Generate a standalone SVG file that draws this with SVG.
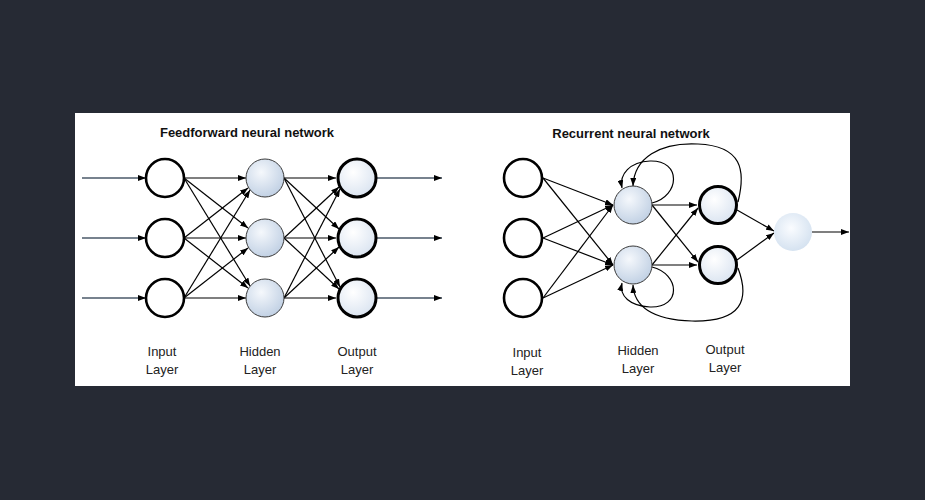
<svg xmlns="http://www.w3.org/2000/svg" width="925" height="500" viewBox="0 0 925 500">
<style>
.ln{stroke:#000;stroke-width:1.2;fill:none;marker-end:url(#ah)}
.io{stroke:#4a5868;stroke-width:1.4;fill:none;marker-end:url(#ah)}
.inp{fill:#fff;stroke:#000;stroke-width:2.6}
.hid{fill:url(#gh);stroke:#3a3a3a;stroke-width:1}
.out{fill:url(#go);stroke:#000;stroke-width:3}
.fin{fill:url(#gf);stroke:none}
.title{font-family:"Liberation Sans",Arial,sans-serif;font-weight:bold;font-size:13px;fill:#111;text-anchor:middle}
.lbl{font-family:"Liberation Sans",Arial,sans-serif;font-size:13px;fill:#222;text-anchor:middle}
</style>
<defs>
<marker id="ah" viewBox="0 0 8 6" refX="8" refY="3" markerWidth="8" markerHeight="6" markerUnits="userSpaceOnUse" orient="auto"><path d="M0,0 L8,3 L0,6 z" fill="#000"/></marker>
<radialGradient id="gh" cx="40%" cy="35%" r="70%"><stop offset="0" stop-color="#f5f8fc"/><stop offset="1" stop-color="#bfcfe3"/></radialGradient>
<radialGradient id="go" cx="40%" cy="35%" r="70%"><stop offset="0" stop-color="#ffffff"/><stop offset="1" stop-color="#d9e3f0"/></radialGradient>
<radialGradient id="gf" cx="45%" cy="40%" r="65%"><stop offset="0" stop-color="#fafcff"/><stop offset="1" stop-color="#d2e0ef"/></radialGradient>
</defs>
<rect x="0" y="0" width="925" height="500" fill="#262a34"/>
<rect x="75" y="113" width="775" height="273" fill="#fff"/>

<g id="connectors">
<path class="io" d="M82,178 L146,178"/>
<path class="io" d="M82,238 L146,238"/>
<path class="io" d="M82,298 L146,298"/>
<path class="io" d="M377,178 L442,178"/>
<path class="io" d="M377,238 L442,238"/>
<path class="io" d="M377,298 L442,298"/>
<path class="ln" d="M184,178 L246,178"/>
<path class="ln" d="M184,238 L248,188"/>
<path class="ln" d="M184,298 L250,190"/>
<path class="ln" d="M184,178 L248,228"/>
<path class="ln" d="M184,238 L246,238"/>
<path class="ln" d="M184,298 L248,248"/>
<path class="ln" d="M184,178 L250,286"/>
<path class="ln" d="M184,238 L248,288"/>
<path class="ln" d="M184,298 L246,298"/>
<path class="ln" d="M284,178 L336,178"/>
<path class="ln" d="M284,238 L339,187"/>
<path class="ln" d="M284,298 L340,189"/>
<path class="ln" d="M284,178 L339,229"/>
<path class="ln" d="M284,238 L336,238"/>
<path class="ln" d="M284,298 L339,247"/>
<path class="ln" d="M284,178 L340,287"/>
<path class="ln" d="M284,238 L339,289"/>
<path class="ln" d="M284,298 L336,298"/>

<path class="ln" d="M543,178 L613,205"/>
<path class="ln" d="M543,238 L613,205"/>
<path class="ln" d="M543,298 L613,205"/>
<path class="ln" d="M543,178 L613,265"/>
<path class="ln" d="M543,238 L613,265"/>
<path class="ln" d="M543,298 L613,265"/>
<path class="ln" d="M652,205 L697,205"/>
<path class="ln" d="M652,205 L698,262"/>
<path class="ln" d="M652,265 L698,208"/>
<path class="ln" d="M652,265 L697,265"/>
<path class="ln" d="M737,210 L774,231"/>
<path class="ln" d="M737,260 L774,233"/>
<path class="ln" d="M812,232 L849,232"/>
<path class="ln" d="M652,203 C680,196 682,160 650,161 C630,162 619,174 622,188"/>
<path class="ln" d="M738,202 C746,170 742,146 698,144 C660,142 634,158 633,186"/>
<path class="ln" d="M652,267 C680,274 682,308 650,307 C630,306 619,296 622,283"/>
<path class="ln" d="M738,268 C750,300 742,322 692,321 C652,320 634,306 633,285"/>
</g>

<g id="ff-in-1"><circle class="inp" cx="165" cy="178" r="19"/></g>
<g id="ff-in-2"><circle class="inp" cx="165" cy="238" r="19"/></g>
<g id="ff-in-3"><circle class="inp" cx="165" cy="298" r="19"/></g>
<g id="ff-hid-1"><circle class="hid" cx="265" cy="178" r="19"/></g>
<g id="ff-hid-2"><circle class="hid" cx="265" cy="238" r="19"/></g>
<g id="ff-hid-3"><circle class="hid" cx="265" cy="298" r="19"/></g>
<g id="ff-out-1"><circle class="out" cx="357" cy="178" r="19"/></g>
<g id="ff-out-2"><circle class="out" cx="357" cy="238" r="19"/></g>
<g id="ff-out-3"><circle class="out" cx="357" cy="298" r="19"/></g>

<g id="rnn-in-1"><circle class="inp" cx="523" cy="178" r="19"/></g>
<g id="rnn-in-2"><circle class="inp" cx="523" cy="238" r="19"/></g>
<g id="rnn-in-3"><circle class="inp" cx="523" cy="298" r="19"/></g>
<g id="rnn-hid-1"><circle class="hid" cx="633" cy="205" r="19"/></g>
<g id="rnn-hid-2"><circle class="hid" cx="633" cy="265" r="19"/></g>
<g id="rnn-out-1"><circle class="out" cx="718" cy="205" r="18.5"/></g>
<g id="rnn-out-2"><circle class="out" cx="718" cy="265" r="18.5"/></g>
<g id="rnn-final"><circle class="fin" cx="793" cy="232" r="19"/></g>

<g id="labels">
<text class="title" x="247" y="137">Feedforward neural network</text>
<text class="title" x="631" y="138">Recurrent neural network</text>
<text class="lbl" x="162" y="356">Input</text>
<text class="lbl" x="162" y="374">Layer</text>
<text class="lbl" x="260" y="356">Hidden</text>
<text class="lbl" x="260" y="374">Layer</text>
<text class="lbl" x="357" y="356">Output</text>
<text class="lbl" x="357" y="374">Layer</text>
<text class="lbl" x="527" y="357">Input</text>
<text class="lbl" x="527" y="375">Layer</text>
<text class="lbl" x="638" y="355">Hidden</text>
<text class="lbl" x="638" y="373">Layer</text>
<text class="lbl" x="725" y="354">Output</text>
<text class="lbl" x="725" y="372">Layer</text>
</g>
</svg>
